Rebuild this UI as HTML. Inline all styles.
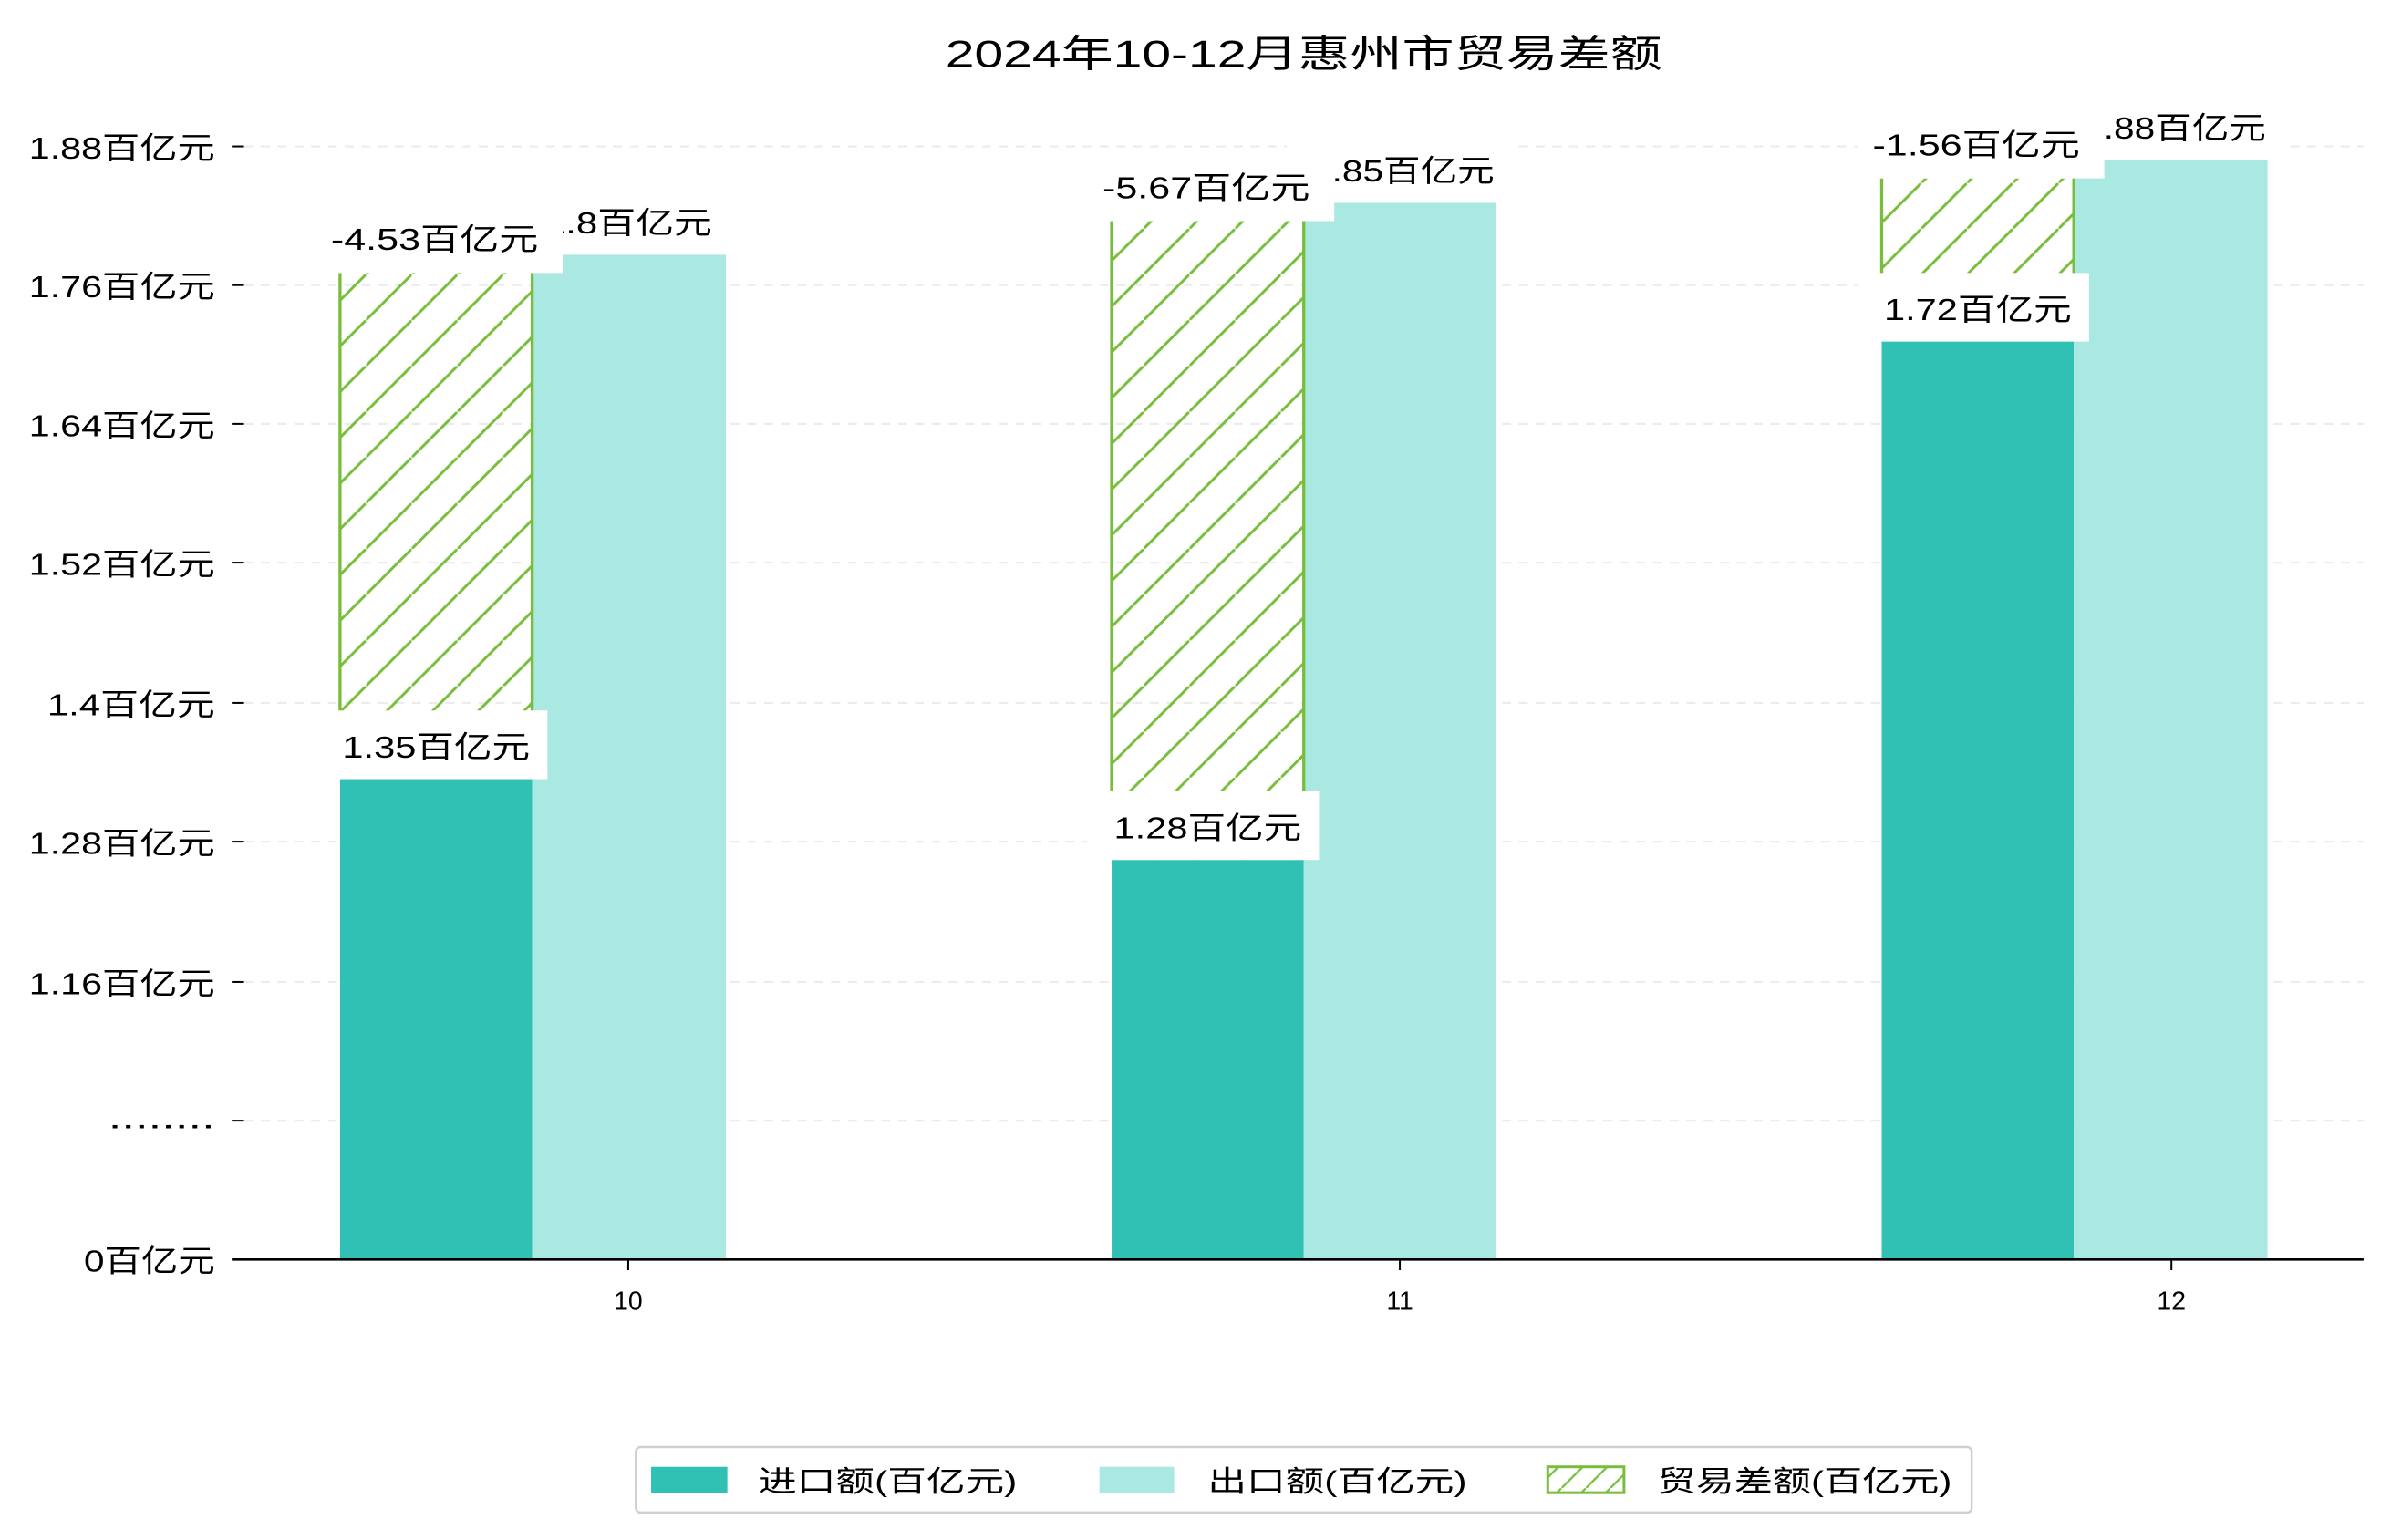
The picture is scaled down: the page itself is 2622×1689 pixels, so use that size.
<!DOCTYPE html>
<html><head><meta charset="utf-8"><style>
html,body{margin:0;padding:0;background:#fff;}
svg{display:block;}
text{font-family:"Liberation Sans","Noto Sans CJK SC",sans-serif;fill:#000;}
</style></head><body>
<svg width="2622" height="1689" viewBox="0 0 1568 1010" preserveAspectRatio="none" xmlns="http://www.w3.org/2000/svg">
<defs>
<pattern id="h" patternUnits="userSpaceOnUse" width="30" height="30">
<line x1="-3" y1="33" x2="33" y2="-3" stroke="#78be3c" stroke-width="1.8"/>
</pattern>
<pattern id="h2" patternUnits="userSpaceOnUse" width="16" height="16">
<line x1="-2" y1="18" x2="18" y2="-2" stroke="#78be3c" stroke-width="1.4"/>
</pattern>
</defs>
<rect width="1568" height="1010" fill="#fff"/>
<text x="855" y="44" font-size="25" text-anchor="middle" textLength="470" lengthAdjust="spacingAndGlyphs">2024年10-12月惠州市贸易差额</text>
<g stroke="#ececec" stroke-width="1.3" stroke-dasharray="6,5">
<line x1="160" y1="96" x2="1550" y2="96"/><line x1="160" y1="187" x2="1550" y2="187"/>
<line x1="160" y1="278" x2="1550" y2="278"/><line x1="160" y1="369" x2="1550" y2="369"/>
<line x1="160" y1="461" x2="1550" y2="461"/><line x1="160" y1="552" x2="1550" y2="552"/>
<line x1="160" y1="644" x2="1550" y2="644"/><line x1="160" y1="735" x2="1550" y2="735"/>
</g>
<g stroke="#000" stroke-width="1.2">
<line x1="152" y1="96" x2="160" y2="96"/><line x1="152" y1="187" x2="160" y2="187"/>
<line x1="152" y1="278" x2="160" y2="278"/><line x1="152" y1="369" x2="160" y2="369"/>
<line x1="152" y1="461" x2="160" y2="461"/><line x1="152" y1="552" x2="160" y2="552"/>
<line x1="152" y1="644" x2="160" y2="644"/><line x1="152" y1="735" x2="160" y2="735"/>
</g>
<g font-size="20" text-anchor="end">
<text x="141" y="104" textLength="122" lengthAdjust="spacingAndGlyphs">1.88百亿元</text>
<text x="141" y="195" textLength="122" lengthAdjust="spacingAndGlyphs">1.76百亿元</text>
<text x="141" y="286" textLength="122" lengthAdjust="spacingAndGlyphs">1.64百亿元</text>
<text x="141" y="377" textLength="122" lengthAdjust="spacingAndGlyphs">1.52百亿元</text>
<text x="141" y="469" textLength="110" lengthAdjust="spacingAndGlyphs">1.4百亿元</text>
<text x="141" y="560" textLength="122" lengthAdjust="spacingAndGlyphs">1.28百亿元</text>
<text x="141" y="652" textLength="122" lengthAdjust="spacingAndGlyphs">1.16百亿元</text>
<text x="141" y="740" textLength="70" lengthAdjust="spacingAndGlyphs">........</text>
<text x="141" y="834" textLength="86" lengthAdjust="spacingAndGlyphs">0百亿元</text>
</g>
<!-- bars -->
<rect x="223" y="511" width="126" height="315" fill="#31c1b4"/>
<rect x="349" y="167" width="127" height="659" fill="#aae8e2"/>
<rect x="729" y="564" width="126" height="262" fill="#31c1b4"/>
<rect x="855" y="133" width="126" height="693" fill="#aae8e2"/>
<rect x="1234" y="224" width="126" height="602" fill="#31c1b4"/>
<rect x="1360" y="105" width="127" height="721" fill="#aae8e2"/>
<!-- hatched diff -->
<rect x="223" y="179" width="126" height="332" fill="url(#h)"/>
<rect x="729" y="145" width="126" height="419" fill="url(#h)"/>
<rect x="1234" y="117" width="126" height="107" fill="url(#h)"/>
<g stroke="#78be3c" stroke-width="2">
<line x1="223" y1="179" x2="223" y2="511"/><line x1="349" y1="179" x2="349" y2="511"/>
<line x1="729" y1="145" x2="729" y2="564"/><line x1="855" y1="145" x2="855" y2="564"/>
<line x1="1234" y1="117" x2="1234" y2="224"/><line x1="1360" y1="117" x2="1360" y2="224"/>
</g>
<line x1="152" y1="826" x2="1550" y2="826" stroke="#000" stroke-width="1.6"/>
<g stroke="#000" stroke-width="1.2"><line x1="412" y1="826" x2="412" y2="833"/><line x1="918" y1="826" x2="918" y2="833"/><line x1="1424" y1="826" x2="1424" y2="833"/></g>
<g font-size="17" text-anchor="middle">
<text x="412" y="859">10</text><text x="918" y="859">11</text><text x="1424" y="859">12</text>
</g>
<!-- labels -->
<g font-size="20" text-anchor="middle">
<rect x="207" y="466" width="152" height="45" fill="#fff"/><text x="286" y="497" textLength="123" lengthAdjust="spacingAndGlyphs">1.35百亿元</text>
<rect x="713" y="519" width="152" height="45" fill="#fff"/><text x="792" y="550" textLength="123" lengthAdjust="spacingAndGlyphs">1.28百亿元</text>
<rect x="1218" y="179" width="152" height="45" fill="#fff"/><text x="1297" y="210" textLength="123" lengthAdjust="spacingAndGlyphs">1.72百亿元</text>
<rect x="343" y="125" width="138" height="42" fill="#fff"/><text x="412" y="153" textLength="110" lengthAdjust="spacingAndGlyphs">1.8百亿元</text>
<rect x="844" y="91" width="148" height="42" fill="#fff"/><text x="920" y="119" textLength="120" lengthAdjust="spacingAndGlyphs">1.85百亿元</text>
<rect x="1350" y="63" width="148" height="42" fill="#fff"/><text x="1426" y="91" textLength="120" lengthAdjust="spacingAndGlyphs">1.88百亿元</text>
<rect x="207" y="137" width="162" height="42" fill="#fff"/><text x="285" y="164" textLength="136" lengthAdjust="spacingAndGlyphs">-4.53百亿元</text>
<rect x="713" y="103" width="162" height="42" fill="#fff"/><text x="791" y="130" textLength="136" lengthAdjust="spacingAndGlyphs">-5.67百亿元</text>
<rect x="1218" y="75" width="162" height="42" fill="#fff"/><text x="1296" y="102" textLength="136" lengthAdjust="spacingAndGlyphs">-1.56百亿元</text>
</g>
<!-- legend -->
<rect x="417" y="949" width="876" height="43" rx="3" fill="#fff" stroke="#d0d0d0" stroke-width="1.5"/>
<rect x="427" y="962" width="50" height="17" fill="#31c1b4"/>
<rect x="721" y="962" width="49" height="17" fill="#aae8e2"/>
<rect x="1015" y="962" width="50" height="17" fill="url(#h2)" stroke="#78be3c" stroke-width="1.8"/>
<g font-size="19">
<text x="497" y="978" textLength="170" lengthAdjust="spacingAndGlyphs">进口额(百亿元)</text>
<text x="792" y="978" textLength="170" lengthAdjust="spacingAndGlyphs">出口额(百亿元)</text>
<text x="1087" y="978" textLength="193" lengthAdjust="spacingAndGlyphs">贸易差额(百亿元)</text>
</g>
</svg>
</body></html>
